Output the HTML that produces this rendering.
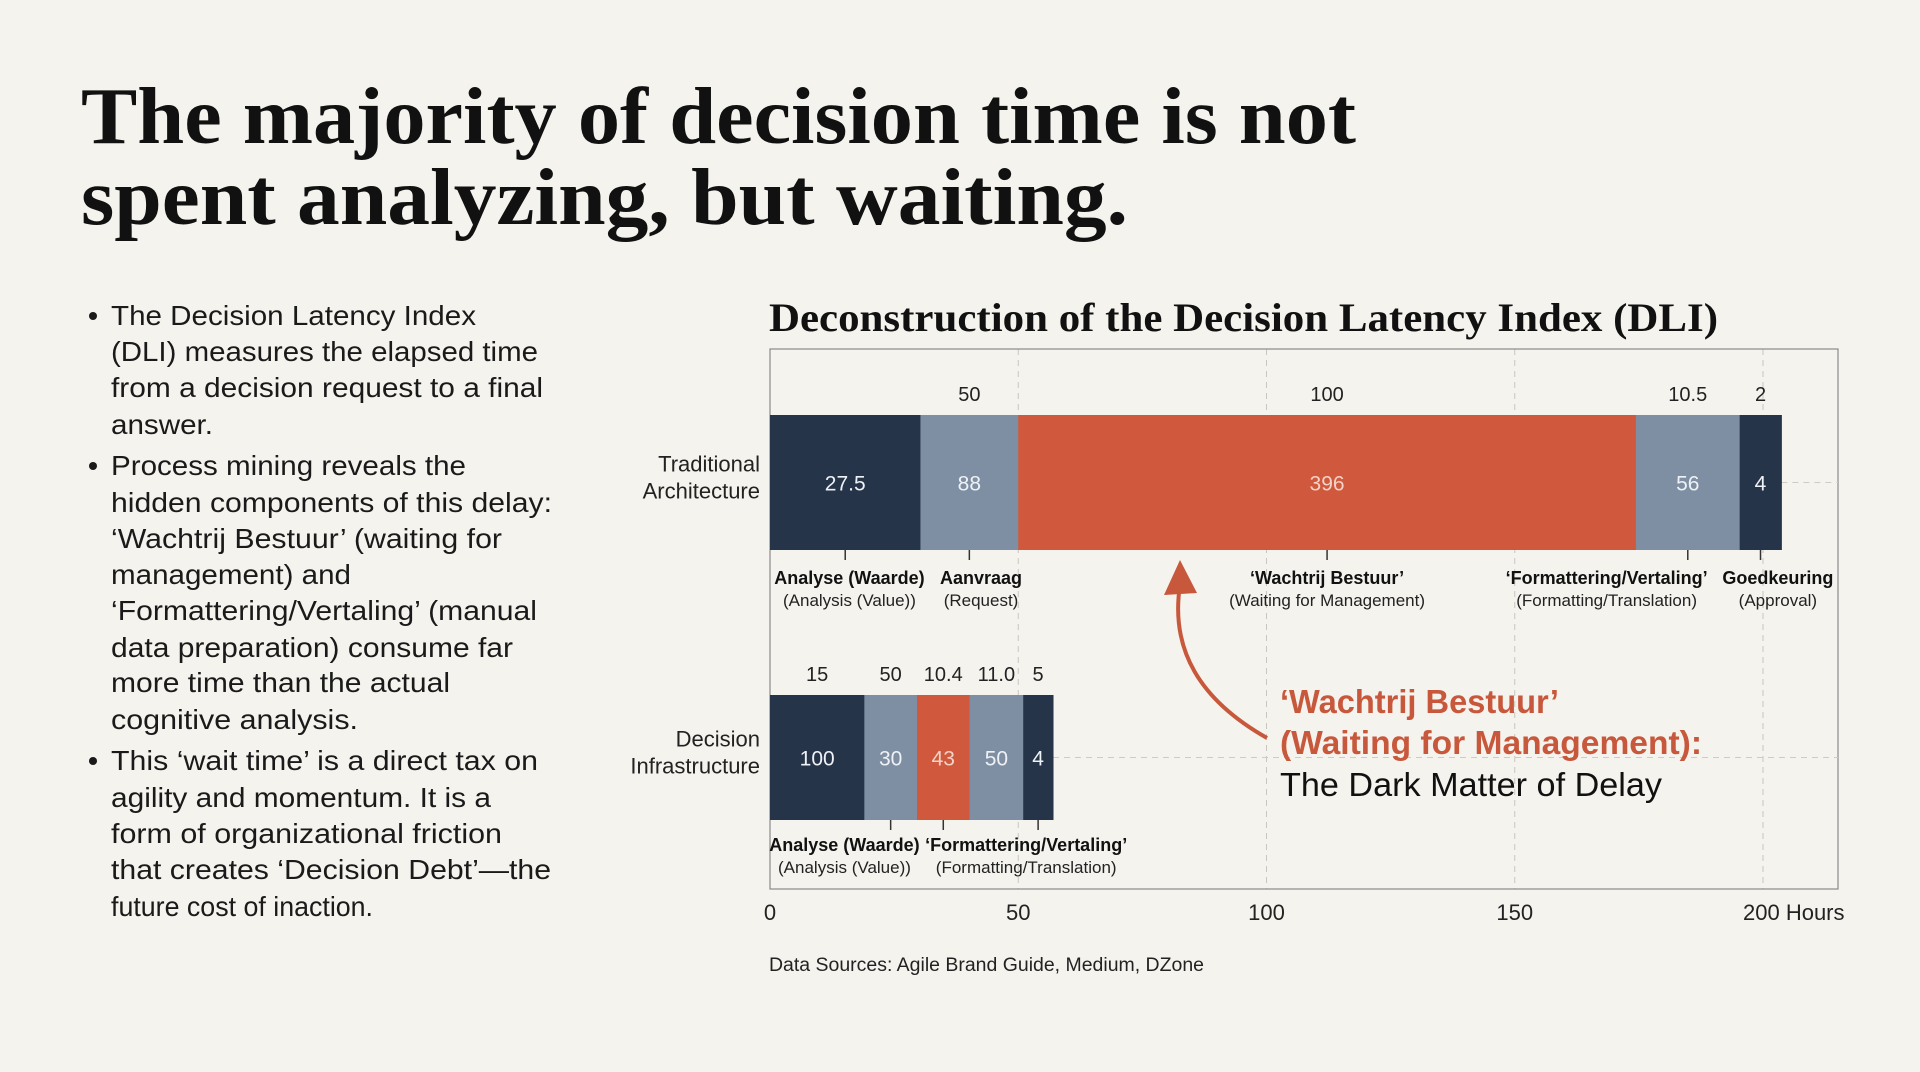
<!DOCTYPE html>
<html><head><meta charset="utf-8"><style>
html,body{margin:0;padding:0;background:#f5f3ee;}
svg{display:block;}
.serif{font-family:"Liberation Serif",serif;font-weight:bold;}
.sans{font-family:"Liberation Sans",sans-serif;}
</style></head>
<body>
<svg id="page" width="1920" height="1072" viewBox="0 0 1920 1072" xmlns="http://www.w3.org/2000/svg">
<rect width="1920" height="1072" fill="#f5f3ee"/>
<g class="serif" fill="#111" font-size="80">
<text x="81" y="143" textLength="1275" lengthAdjust="spacingAndGlyphs">The majority of decision time is not</text>
<text x="81" y="224" textLength="1047" lengthAdjust="spacingAndGlyphs">spent analyzing, but waiting.</text>
</g>
<g id="bullets" class="sans" fill="#1a1a1a" font-size="28"></g>
<text class="serif" x="769" y="331" font-size="40" fill="#111" textLength="949" lengthAdjust="spacingAndGlyphs">Deconstruction of the Decision Latency Index (DLI)</text>
<g id="chart"></g>
<text class="sans" x="769" y="971" font-size="19" fill="#222" textLength="435" lengthAdjust="spacingAndGlyphs">Data Sources: Agile Brand Guide, Medium, DZone</text>
</svg>
<script>
const NS='http://www.w3.org/2000/svg';
function mk(tag,attrs,parent,txt){const e=document.createElementNS(NS,tag);for(const k in attrs)e.setAttribute(k,attrs[k]);if(txt!==undefined)e.textContent=txt;parent.appendChild(e);return e;}

// bullets
const bulletLines=[
["The Decision Latency Index",365,true],["(DLI) measures the elapsed time",427],["from a decision request to a final",432],["answer.",102],
["Process mining reveals the",355,true],["hidden components of this delay:",441],["\u2018Wachtrij Bestuur\u2019 (waiting for",391],["management) and",240],["\u2018Formattering/Vertaling\u2019 (manual",426],["data preparation) consume far",402],["more time than the actual",339],["cognitive analysis.",247],
["This \u2018wait time\u2019 is a direct tax on",427,true],["agility and momentum. It is a",380],["form of organizational friction",391],["that creates \u2018Decision Debt\u2019\u2014the",440],["future cost of inaction.",262]];
const bulletY=[315,351,387,424,465,502,538,574,610,647,682,719,760,797,833,869,906];
const bg=document.getElementById('bullets');
bulletLines.forEach((l,i)=>{
  const t=mk('text',{x:111,y:bulletY[i]+10,textLength:l[1],lengthAdjust:'spacingAndGlyphs'},bg,l[0]);
  
  
  if(l[2]){const c=mk('circle',{cx:93,cy:bulletY[i]+1,r:4,fill:'#1a1a1a'},bg);
    
    }
});

// chart data
const axisTicks=[0,50,100,150,200];
const tradDurations=[30.3,19.7,124.4,20.9,8.4];
const tradInside=['27.5','88','396','56','4'];
const tradTop=['','50','100','10.5','2'];
const tradColors=['#253449','#7f8fa3','#d0583c','#7f8fa3','#253449'];
const tradCatTitle=['Analyse (Waarde)','Aanvraag','\u2018Wachtrij Bestuur\u2019','\u2018Formattering/Vertaling\u2019','Goedkeuring'];
const tradCatSub=['(Analysis (Value))','(Request)','(Waiting for Management)','(Formatting/Translation)','(Approval)'];
const tradCatPos=[16,42.5,112.2,168.5,203];
const tradTickSeg=[0,1,2,3,4];
const decDurations=[19,10.6,10.6,10.8,6];
const decInside=['100','30','43','50','4'];
const decTop=['15','50','10.4','11.0','5'];
const decColors=['#253449','#7f8fa3','#d0583c','#7f8fa3','#253449'];
const decCatTitle=['Analyse (Waarde)','\u2018Formattering/Vertaling\u2019'];
const decCatSub=['(Analysis (Value))','(Formatting/Translation)'];
const decCatPos=[15,51.6];
const decTickSeg=[1,2,4];

const X0=770,PX=4.965;
const xs=v=>X0+v*PX;
const plotTop=349,plotBot=889,plotRight=1838;
const ch=document.getElementById('chart');

// gridlines
axisTicks.forEach(t=>{if(t===0)return;
  const g=mk('line',{x1:xs(t),x2:xs(t),y1:plotTop,y2:plotBot,stroke:'#c9c6bf','stroke-width':1,'stroke-dasharray':'6,5'},ch);
  
  
});
// frame
const fr=mk('rect',{x:X0,y:plotTop,width:plotRight-X0,height:plotBot-plotTop,fill:'none',stroke:'#8a8a8a','stroke-width':1.2},ch);



function drawBar(durs,inside,top,colors,y0,y1,rowName,rowLabel,tickSeg,catT,catS,catPos,catY){
  const cy=(y0+y1)/2;
  let sum=durs.reduce((a,b)=>a+b,0);
  const hg=mk('line',{x1:xs(sum),x2:plotRight,y1:cy,y2:cy,stroke:'#cfcbc4','stroke-dasharray':'6,5'},ch);
  
  
  let acc=0;const centers=[];
  durs.forEach((d,i)=>{
    const r=mk('rect',{x:xs(acc),y:y0,width:d*PX+0.5,height:y1-y0,fill:colors[i]},ch);
    
    
    const c=xs(acc+d/2);centers.push(c);
    const t=mk('text',{x:c,y:cy+8,'text-anchor':'middle',fill:i===2?'#f3d3c8':'#eef1f5','font-size':21,'class':'sans'},ch,inside[i]);
    
    
    if(top[i]){const tt=mk('text',{x:c,y:y0-14,'text-anchor':'middle',fill:'#222','font-size':20,'class':'sans'},ch,top[i]);
      
      }
    acc+=d;
  });
  tickSeg.forEach(i=>{const tk=mk('line',{x1:centers[i],x2:centers[i],y1:y1,y2:y1+10,stroke:'#333','stroke-width':1.5},ch);
    
    });
  catT.forEach((s,i)=>{
    const a=mk('text',{x:xs(catPos[i]),y:catY,'text-anchor':'middle','font-size':18,'font-weight':'bold',fill:'#111','class':'sans'},ch,s);
    
    
    const b=mk('text',{x:xs(catPos[i]),y:catY+22,'text-anchor':'middle','font-size':17,fill:'#222','class':'sans'},ch,catS[i]);
    
    
  });
  rowLabel.forEach((s,i)=>{
    const l=mk('text',{x:760,y:cy-3+(i===0?-8:19),'text-anchor':'end','font-size':22,fill:'#222','class':'sans'},ch,s);
    
    
  });
}
drawBar(tradDurations,tradInside,tradTop,tradColors,415,550,'traditional',['Traditional','Architecture'],tradTickSeg,tradCatTitle,tradCatSub,tradCatPos,584);
drawBar(decDurations,decInside,decTop,decColors,695,820,'decision',['Decision','Infrastructure'],decTickSeg,decCatTitle,decCatSub,decCatPos,851);

// x axis labels
axisTicks.forEach(t=>{
  const l=mk('text',{x:xs(t),y:920,'text-anchor':t===200?'start':'middle','font-size':22,fill:'#222','class':'sans'},ch,t===200?'200 Hours':String(t));
  if(t===200)l.setAttribute('x',xs(t)-20);
  
  
});

// annotation arrow
const ar=mk('path',{d:'M1267,738 C1200,700 1170,650 1180,585',fill:'none',stroke:'#c8583c','stroke-width':4},ch);


const ah=mk('polygon',{points:'1180,560 1164,595 1197,593',fill:'#c8583c'},ch);


const annL=[["\u2018Wachtrij Bestuur\u2019",713,279,'#c8583c','bold'],["(Waiting for Management):",754,422,'#c8583c','bold'],["The Dark Matter of Delay",796,382,'#111','normal']];
annL.forEach(a=>{
  const t=mk('text',{x:1280,y:a[1],'font-size':33,fill:a[3],'font-weight':a[4],'class':'sans',textLength:a[2],lengthAdjust:'spacingAndGlyphs'},ch,a[0]);
  
  
});
</script>
</body></html>
